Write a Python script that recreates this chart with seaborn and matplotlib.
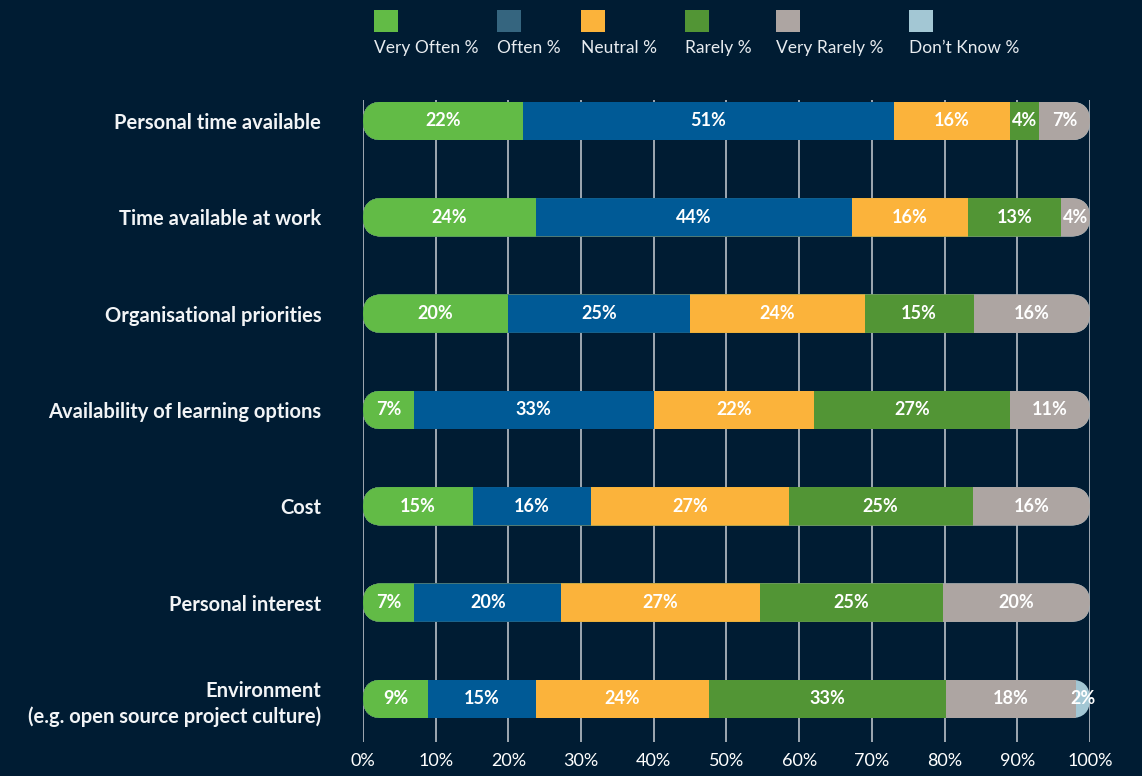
import pandas as pd
import matplotlib.pyplot as plt
import seaborn as sns
from matplotlib.patches import FancyBboxPatch, Rectangle

# Survey data (share of respondents, %)
factors = [
    "Personal time available",
    "Time available at work",
    "Organisational priorities",
    "Availability of learning options",
    "Cost",
    "Personal interest",
    "Environment\n(e.g. open source project culture)",
]
responses = ["Very Often %", "Often %", "Neutral %", "Rarely %", "Very Rarely %", "Don\u2019t Know %"]
very_often = [22, 24, 20, 7, 15, 7, 9]
often = [51, 44, 25, 33, 16, 20, 15]
neutral = [16, 16, 24, 22, 27, 27, 24]
rarely = [4, 13, 15, 27, 25, 25, 33]
very_rarely = [7, 4, 16, 11, 16, 20, 18]
dont_know = [0, 0, 0, 0, 0, 0, 2]

bar_colors = ["#62BB46", "#005A96", "#FBB33B", "#529535", "#ADA5A2", "#A3C7D4"]
legend_colors = ["#62BB46", "#35657F", "#FBB33B", "#529535", "#ADA5A2", "#A3C7D4"]
bg = "#001C33"

df = pd.DataFrame(
    dict(zip(responses, [very_often, often, neutral, rarely, very_rarely, dont_know])),
    index=factors,
)
shares = df.div(df.sum(axis=1), axis=0) * 100
cum = shares.cumsum(axis=1)

sns.set_style("dark", {"axes.facecolor": bg, "figure.facecolor": bg})
plt.rcParams["font.family"] = ["Lato", "DejaVu Sans"]

W, H = 1142, 776
fig, ax = plt.subplots(figsize=(W / 100, H / 100), dpi=100)
fig.subplots_adjust(left=363 / W, right=1090 / W, top=1 - 100 / H, bottom=1 - 742 / H)

# stacked bars: draw cumulative totals from the widest down
for col, color in reversed(list(zip(responses, bar_colors))):
    sns.barplot(x=cum[col].values, y=factors, order=factors, orient="h", color=color,
                saturation=1, width=0.4, linewidth=0, ax=ax, zorder=3)

ax.set_xlim(0, 100)
ax.set_ylim(6.447, -0.218)

# value labels
for i, f in enumerate(factors):
    for col in responses:
        v = df.loc[f, col]
        if v > 0:
            ax.text(cum.loc[f, col] - shares.loc[f, col] / 2, i, f"{v}%", ha="center", va="center",
                    color="white", fontsize=13, fontweight="bold", zorder=5)

# rounded (pill) ends for each bar
xupp = 100 / 727
yupp = (6.447 + 0.218) / 642
aspect = yupp / xupp
r = 0.2 / aspect
clips = []
for i in range(len(factors)):
    clip = FancyBboxPatch((0, i - 0.2), 100, 0.4, boxstyle=f"round,pad=0,rounding_size={r}",
                          mutation_aspect=aspect, transform=ax.transData)
    clips.append(clip)
for p in ax.patches:
    row = int(round(p.get_y() + p.get_height() / 2))
    p.set_clip_path(clips[row])

ax.set_xticks(range(0, 101, 10))
ax.set_xticklabels([f"{t}%" for t in range(0, 101, 10)])
ax.xaxis.grid(True, color="#C9CED4", linewidth=1.1)
ax.yaxis.grid(False)
ax.set_axisbelow(True)
for s in ax.spines.values():
    s.set_visible(False)
ax.tick_params(axis="x", length=0, pad=8, labelsize=13, labelcolor="white")
ax.tick_params(axis="y", length=0, pad=30, labelsize=14.5, labelcolor="#F2F4F6")
for lab in ax.get_yticklabels():
    lab.set_fontweight("bold")
    lab.set_multialignment("right")
    lab.set_linespacing(1.35)
ax.set_xlabel("")
ax.set_ylabel("")

# legend: swatch above label
legend_x = [374, 497, 581, 685, 776, 909]
for name, color, x in zip(responses, legend_colors, legend_x):
    fig.patches.append(Rectangle((x / W, 1 - 32 / H), 24 / W, 22 / H, transform=fig.transFigure,
                                 facecolor=color, edgecolor="none"))
    fig.text(x / W, 1 - 48 / H, name, ha="left", va="center", color="#E8ECF0", fontsize=12.5)

fig.savefig("out.png", dpi=100, facecolor=bg)
